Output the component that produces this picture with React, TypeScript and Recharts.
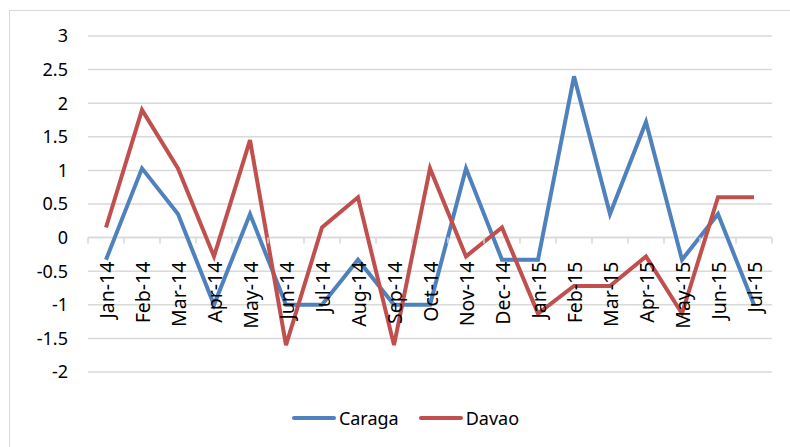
import React from 'react';
import { LineChart, Line, XAxis, YAxis, CartesianGrid, ReferenceLine } from 'recharts';

const months = [
  'Jan-14', 'Feb-14', 'Mar-14', 'Apr-14', 'May-14', 'Jun-14', 'Jul-14', 'Aug-14', 'Sep-14', 'Oct-14',
  'Nov-14', 'Dec-14', 'Jan-15', 'Feb-15', 'Mar-15', 'Apr-15', 'May-15', 'Jun-15', 'Jul-15',
];
const caraga = [-0.33, 1.03, 0.35, -1, 0.35, -1, -1, -0.33, -1, -1, 1.03, -0.33, -0.33, 2.4, 0.35, 1.72, -0.33, 0.35, -1];
const davao = [0.15, 1.9, 1.03, -0.28, 1.45, -1.6, 0.15, 0.6, -1.6, 1.03, -0.28, 0.15, -1.13, -0.72, -0.72, -0.28, -1.13, 0.6, 0.6];
const yTicks = [-2, -1.5, -1, -0.5, 0, 0.5, 1, 1.5, 2, 2.5, 3];

const data = months.map((m, i) => ({ month: m, Caraga: caraga[i], Davao: davao[i] }));

const W = 790;
const H = 447;
const X_AXIS_H = 30;
// bottom margin + x axis height = 75px below the plot
const M = { top: 36, right: 18, bottom: 75 - X_AXIS_H, left: 0 };
const Y_AXIS_W = 88;
const PLOT_H = H - M.top - 75;
// zero line sits 3/5 of the way down (domain -2..3)
const ZERO_Y = M.top + (PLOT_H * 3) / 5;
const BAND = (W - M.right - Y_AXIS_W) / months.length;
const FONT = '"Noto Sans", sans-serif';
const GRID = '#d9d9d9';

const series = [
  { name: 'Caraga', color: '#4f81bd' },
  { name: 'Davao', color: '#c0504d' },
];

const MonthTick = (props: any) => {
  const { x, payload, index } = props;
  const last = index === months.length - 1;
  return (
    <g transform={`translate(${x},${ZERO_Y})`}>
      <line x1={-BAND / 2} y1={0} x2={-BAND / 2} y2={6} stroke={GRID} strokeWidth={1.5} />
      {last && <line x1={BAND / 2} y1={0} x2={BAND / 2} y2={6} stroke={GRID} strokeWidth={1.5} />}
      <text
        x={0}
        y={0}
        transform="translate(0,24) rotate(-90)"
        textAnchor="end"
        dominantBaseline="central"
        fontFamily={FONT}
        fontSize={19.5}
        fill="#000"
      >
        {payload.value}
      </text>
    </g>
  );
};

export default function App() {
  return (
    <div style={{ position: 'absolute', left: 0, top: 0, width: W, height: H, overflow: 'hidden', background: '#fff' }}>
      <div style={{ position: 'absolute', left: 9, top: 10, width: 900, height: 600, border: `1px solid ${GRID}` }} />
      <LineChart width={W} height={H} data={data} margin={M}>
        <CartesianGrid vertical={false} stroke={GRID} strokeWidth={1.5} />
        <XAxis
          dataKey="month"
          height={X_AXIS_H}
          axisLine={false}
          tickLine={false}
          interval={0}
          padding={{ left: BAND / 2, right: BAND / 2 }}
          tick={<MonthTick />}
        />
        <YAxis
          width={Y_AXIS_W}
          domain={[-2, 3]}
          ticks={yTicks}
          axisLine={false}
          tickLine={false}
          tickMargin={14}
          tick={{ fontFamily: FONT, fontSize: 18, fill: '#000' }}
        />
        <ReferenceLine y={0} stroke={GRID} strokeWidth={1.5} />
        {series.map((s) => (
          <Line
            key={s.name}
            type="linear"
            dataKey={s.name}
            stroke={s.color}
            strokeWidth={4}
            dot={false}
            zIndex={1000}
            isAnimationActive={false}
          />
        ))}
      </LineChart>
      <div
        style={{
          position: 'absolute', left: 0, top: 406, width: W, display: 'flex', justifyContent: 'center',
          paddingLeft: 21, boxSizing: 'border-box', fontFamily: FONT, fontSize: 18, color: '#000',
        }}
      >
        {series.map((s, i) => (
          <div key={s.name} style={{ display: 'flex', alignItems: 'center', marginLeft: i ? 20 : 0 }}>
            <svg width={44} height={6}>
              <line x1={2} y1={3} x2={42} y2={3} stroke={s.color} strokeWidth={4} strokeLinecap="round" />
            </svg>
            <span style={{ marginLeft: 3 }}>{s.name}</span>
          </div>
        ))}
      </div>
    </div>
  );
}
